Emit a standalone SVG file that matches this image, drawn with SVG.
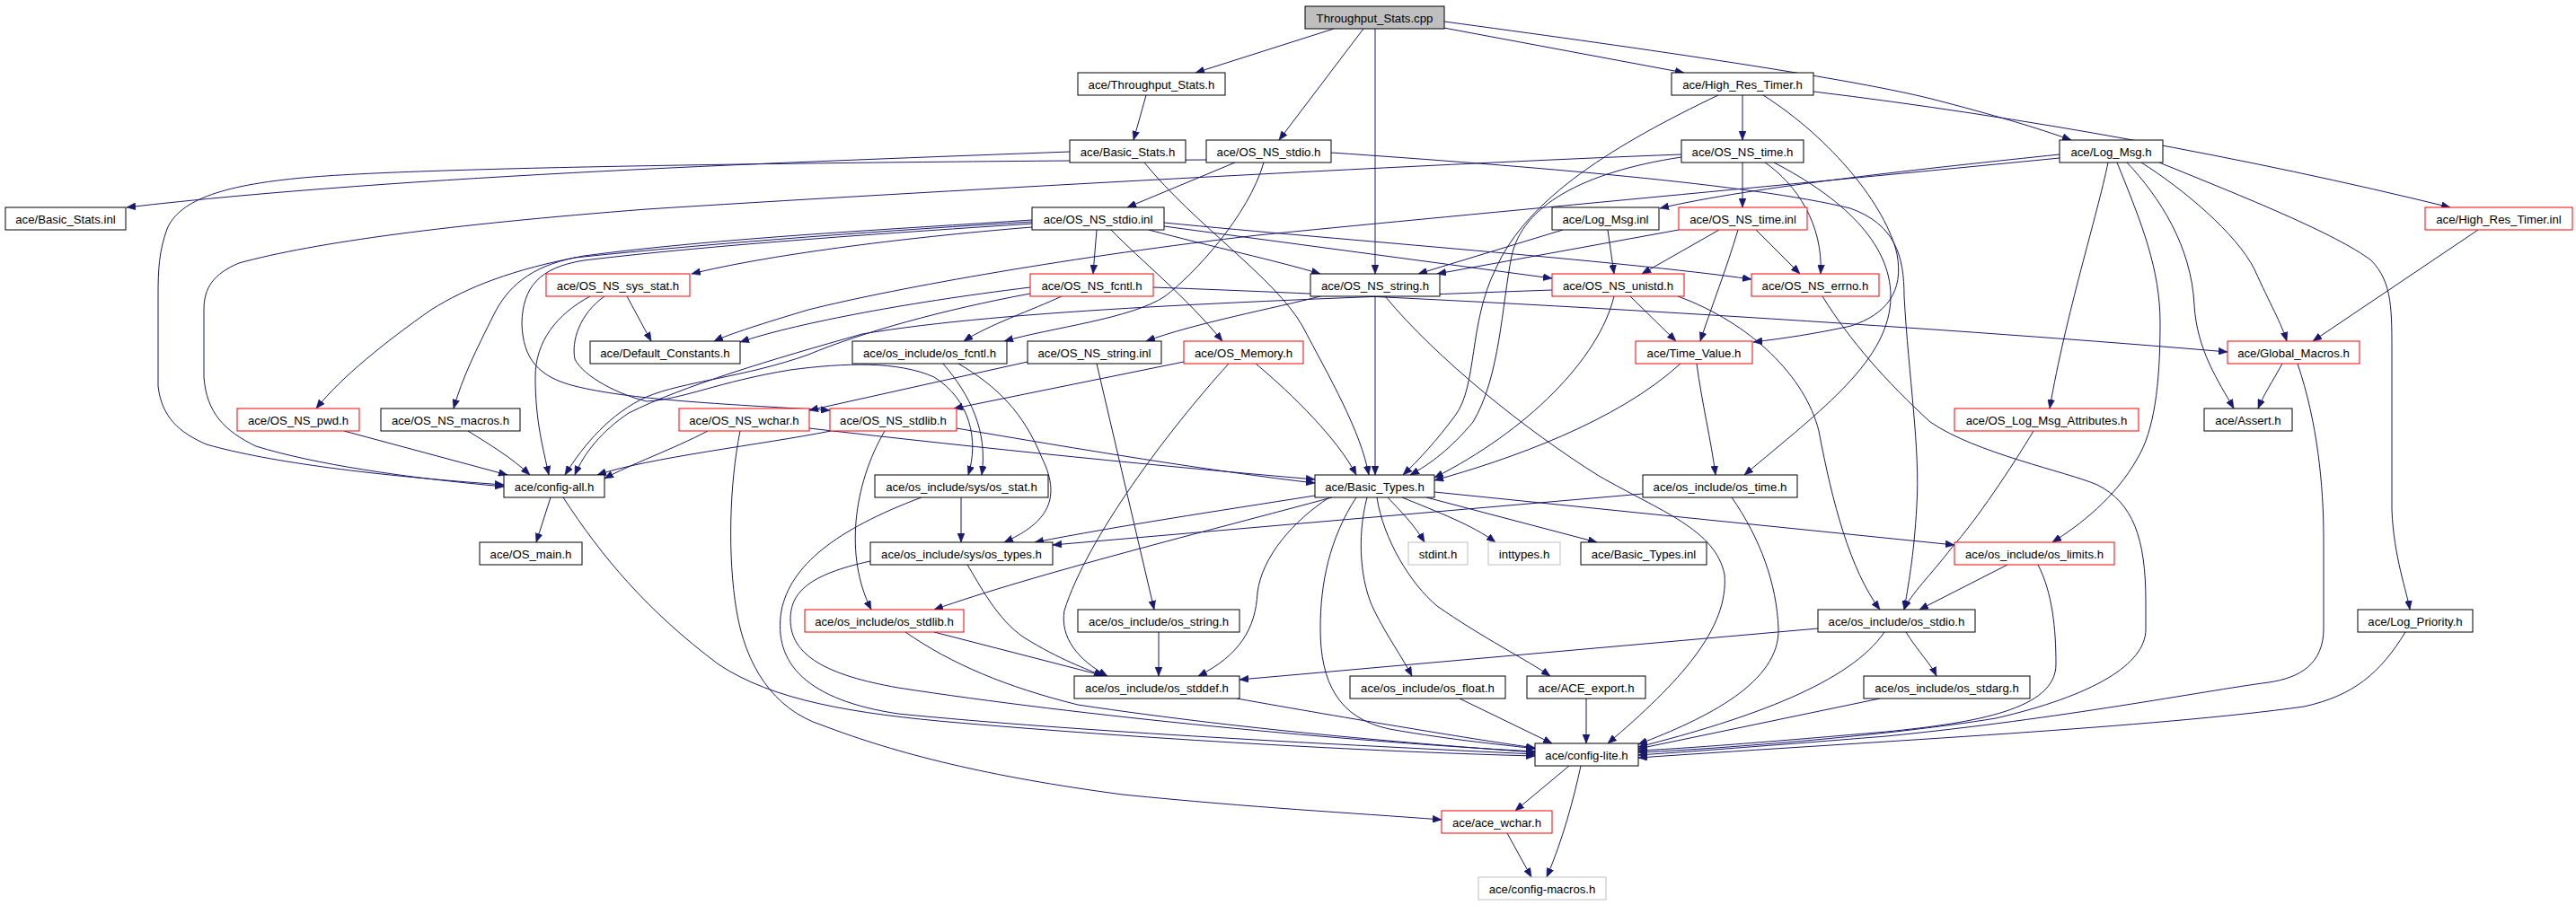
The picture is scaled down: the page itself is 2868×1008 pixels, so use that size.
<svg xmlns="http://www.w3.org/2000/svg" width="2868" height="1008" viewBox="0 0 2868 1008">
<style>
.n rect{fill:#fff;stroke:#000;stroke-width:1}
.n.r rect{stroke:#ff0000}
.n.g rect{stroke:#bfbfbf}
.n.root rect{fill:#bfbfbf}
.n text{font-family:"Liberation Sans",Arial,Helvetica,sans-serif;font-size:13.2px;text-anchor:middle;fill:#000}
#edges path{fill:none;stroke:#191970;stroke-width:1;marker-end:url(#a)}
</style>
<defs>
<marker id="a" markerUnits="userSpaceOnUse" markerWidth="10" markerHeight="8" refX="10" refY="4" orient="auto"><path d="M0,0 L10,4 L0,8 z" fill="#191970" stroke="#191970" stroke-width="0.5"/></marker>
</defs>
<rect width="2868" height="1008" fill="#fff"/>
<g id="edges">
<path d="M1485,32 L1331,81"/>
<path d="M1518,32 L1424,156"/>
<path d="M1531,32 L1531,305"/>
<path d="M1602,30 L1875,81"/>
<path d="M1608,24 C1800,50 2050,85 2150,110 C2220,128 2270,143 2306,156"/>
<path d="M1276,106 L1262,156"/>
<path d="M1191,169 C900,180 450,195 141,231"/>
<path d="M1274,181 C1330,250 1420,310 1450,363 C1480,420 1515,480 1524,529"/>
<path d="M1343,178 C1000,180 500,185 349,197 C250,205 200,222 186,255 C177,280 176,300 176,330 L176,430 C180,465 200,482 230,495 C300,515 420,530 561,540"/>
<path d="M1375,181 L1255,231"/>
<path d="M1407,181 C1390,240 1330,305 1297,330 C1260,355 1170,365 1118,380"/>
<path d="M1482,170 C1700,185 1950,205 2060,232 C2110,250 2120,285 2120,330 C2125,420 2138,500 2134,563 C2131,620 2124,655 2120,679"/>
<path d="M1940,106 L1940,156"/>
<path d="M1913,106 C1800,160 1700,220 1665,300 C1635,360 1645,430 1620,463 C1600,490 1580,512 1562,529"/>
<path d="M1963,106 C2040,155 2100,230 2112,283 C2120,325 2100,350 2061,363 C2020,372 1985,377 1952,381"/>
<path d="M2019,102 C2250,130 2500,175 2728,231"/>
<path d="M1940,181 L1940,231"/>
<path d="M1965,181 C2000,205 2030,250 2027,305"/>
<path d="M1975,181 C2050,220 2105,270 2105,330 C2105,400 2030,455 1942,529"/>
<path d="M1872,172 C1600,182 1000,215 720,233 C500,250 350,270 266,293 C238,305 227,320 227,345 L227,420 C230,460 250,480 285,497 C350,517 450,532 561,542"/>
<path d="M1872,175 C1760,192 1695,230 1683,285 C1672,340 1670,420 1640,470 C1615,500 1592,517 1570,529"/>
<path d="M2293,172 C2150,187 1950,208 1848,232"/>
<path d="M2293,176 C2000,205 1600,242 1400,262 C1200,285 1000,320 900,345 C850,360 812,372 795,380"/>
<path d="M2347,181 C2335,240 2300,350 2282,455"/>
<path d="M2357,181 C2385,250 2405,300 2405,360 C2405,430 2398,480 2380,510 C2355,555 2315,585 2285,604"/>
<path d="M2368,181 C2405,220 2440,275 2443,340 C2446,390 2470,425 2487,455"/>
<path d="M2384,181 C2430,210 2490,260 2510,300 C2528,340 2540,360 2546,380"/>
<path d="M2404,181 C2500,220 2600,260 2640,290 C2664,315 2663,345 2663,400 L2663,568 C2665,620 2680,660 2683,679"/>
<path d="M1740,256 L1579,305"/>
<path d="M1790,256 L1797,305"/>
<path d="M1869,256 L1600,305"/>
<path d="M1914,256 L1828,305"/>
<path d="M1955,256 L2004,305"/>
<path d="M1935,256 C1922,300 1906,340 1893,380"/>
<path d="M1815,330 L1866,380"/>
<path d="M1797,330 C1780,400 1700,480 1597,532"/>
<path d="M1871,405 C1800,470 1680,512 1597,535"/>
<path d="M1889,405 C1895,450 1905,490 1910,529"/>
<path d="M1868,330 C1950,360 2010,420 2025,480 C2040,560 2060,635 2093,679"/>
<path d="M1728,323 C1400,335 1120,345 960,372 C860,400 760,430 700,460 C670,480 650,505 640,529"/>
<path d="M1147,327 C1050,345 960,370 900,395 C830,420 760,425 720,442 C680,460 650,495 629,529"/>
<path d="M1147,320 C1000,338 880,362 824,381"/>
<path d="M1182,330 C1150,345 1100,362 1073,380"/>
<path d="M1284,320 C1700,335 2200,368 2480,392"/>
<path d="M2029,330 C2060,380 2100,425 2149,470 C2200,505 2300,525 2335,540 C2375,560 2389,600 2389,670 L2389,701 C2389,740 2330,775 2222,800 C2100,820 1900,835 1824,838"/>
<path d="M2558,405 C2580,470 2587,540 2587,600 L2587,700 C2587,740 2560,755 2526,760 C2450,770 2300,800 2100,820 C1950,832 1870,838 1824,841"/>
<path d="M2678,704 C2650,750 2620,775 2565,787 C2400,810 2100,825 1824,844"/>
<path d="M2269,629 C2285,660 2289,700 2289,740 C2289,790 2200,805 2100,815 C1950,828 1870,834 1824,836"/>
<path d="M2235,629 L2137,679"/>
<path d="M2264,480 C2240,520 2200,580 2173,610 C2150,640 2127,662 2120,679"/>
<path d="M2122,704 C2135,725 2150,740 2156,753"/>
<path d="M2024,700 L1380,757"/>
<path d="M2098,704 C2060,760 1950,800 1824,832"/>
<path d="M2093,778 L1824,834"/>
<path d="M1928,554 C1960,600 1978,650 1980,700 C1982,760 1900,800 1824,829"/>
<path d="M1829,550 L1172,607"/>
<path d="M1542,330 C1600,400 1700,480 1780,530 C1850,570 1910,590 1920,640 C1925,700 1870,760 1790,828"/>
<path d="M1531,330 L1531,529"/>
<path d="M1470,330 C1420,343 1330,360 1276,380"/>
<path d="M1149,253 C1000,265 850,285 770,305"/>
<path d="M1149,245 C1000,255 800,265 650,285 C570,300 520,320 480,345 C430,380 380,420 352,455"/>
<path d="M1149,247 C1000,256 800,270 640,287 C590,297 565,320 550,350 C530,390 515,420 505,455"/>
<path d="M1149,249 C1000,259 800,272 650,290 C600,298 582,320 581,360 C582,400 600,420 640,430 C700,445 800,450 924,457"/>
<path d="M1221,256 L1217,305"/>
<path d="M1237,256 C1270,290 1320,330 1361,380"/>
<path d="M1279,256 C1350,275 1420,290 1470,305"/>
<path d="M1296,252 L1728,310"/>
<path d="M1296,248 C1500,268 1800,290 1950,311"/>
<path d="M657,330 C620,350 596,380 596,420 C596,470 605,500 611,529"/>
<path d="M698,330 L725,380"/>
<path d="M673,330 C645,350 636,380 640,400 C650,420 690,440 720,447 C760,445 800,425 880,412 C940,404 1000,402 1040,420 C1080,445 1090,490 1078,529"/>
<path d="M383,480 L565,529"/>
<path d="M521,480 C545,495 570,510 590,529"/>
<path d="M788,480 C750,500 700,518 673,533"/>
<path d="M925,480 C850,495 720,510 665,529"/>
<path d="M901,477 C1100,500 1300,520 1464,534"/>
<path d="M1065,477 C1200,500 1350,525 1464,538"/>
<path d="M824,480 C812,540 810,620 820,680 C830,740 860,790 916,808 C1000,840 1100,865 1250,885 C1400,900 1500,905 1605,913"/>
<path d="M985,480 C950,540 940,620 970,679"/>
<path d="M1318,403 L1062,455"/>
<path d="M1398,405 C1440,440 1490,490 1510,529"/>
<path d="M1368,405 C1300,480 1210,600 1185,680 C1180,710 1200,735 1233,753"/>
<path d="M1144,403 L901,457"/>
<path d="M1221,405 L1285,679"/>
<path d="M1067,405 C1110,430 1140,460 1160,510 C1185,560 1160,585 1118,604"/>
<path d="M1050,405 C1080,440 1100,480 1093,529"/>
<path d="M1070,554 L1070,604"/>
<path d="M1026,554 C930,590 880,630 870,680 C860,740 900,780 1000,795 C1200,815 1500,830 1709,840"/>
<path d="M969,625 C900,640 880,660 880,690 C880,730 920,752 1000,766 C1200,797 1500,826 1709,837"/>
<path d="M1077,629 C1090,650 1110,690 1140,710 C1180,735 1210,745 1228,753"/>
<path d="M1464,552 C1350,570 1250,585 1152,604"/>
<path d="M1483,554 C1350,590 1150,640 1040,679"/>
<path d="M1480,554 C1440,580 1405,620 1400,660 C1398,700 1380,730 1334,753"/>
<path d="M1510,554 C1480,600 1470,650 1470,700 C1470,760 1490,800 1547,812 C1620,825 1680,830 1709,834"/>
<path d="M1522,554 C1510,600 1515,650 1530,680 C1545,710 1560,730 1572,753"/>
<path d="M1533,554 C1540,600 1570,650 1600,675 C1650,710 1700,735 1726,753"/>
<path d="M1545,554 C1560,570 1575,585 1586,604"/>
<path d="M1561,554 C1600,570 1640,585 1665,604"/>
<path d="M1588,554 L1778,604"/>
<path d="M1597,548 L2176,607"/>
<path d="M613,554 L597,604"/>
<path d="M627,554 C670,620 720,680 800,740 C860,780 950,795 1067,805 C1300,825 1550,838 1709,842"/>
<path d="M1040,704 L1230,753"/>
<path d="M1008,704 C1060,740 1120,765 1200,785 C1400,815 1600,830 1709,838"/>
<path d="M1377,778 C1500,800 1650,825 1709,833"/>
<path d="M1290,704 L1290,753"/>
<path d="M1625,778 L1728,828"/>
<path d="M1766,778 L1766,828"/>
<path d="M1747,853 L1687,903"/>
<path d="M1760,853 C1752,890 1740,935 1722,977"/>
<path d="M1678,928 L1705,977"/>
<path d="M2541,405 C2530,425 2520,440 2514,455"/>
<path d="M2759,256 L2575,380"/>
</g>
<g id="n_cpp" class="n root"><rect x="1453" y="7" width="155" height="25"/><text x="1530.5" y="24.5">Throughput_Stats.cpp</text></g>
<g id="n_tsh" class="n"><rect x="1200" y="81" width="164" height="25"/><text x="1282" y="98.5">ace/Throughput_Stats.h</text></g>
<g id="n_hrt" class="n"><rect x="1861" y="81" width="158" height="25"/><text x="1940" y="98.5">ace/High_Res_Timer.h</text></g>
<g id="n_bsh" class="n"><rect x="1191" y="156" width="129" height="25"/><text x="1255.5" y="173.5">ace/Basic_Stats.h</text></g>
<g id="n_nsstdio" class="n"><rect x="1343" y="156" width="139" height="25"/><text x="1412.5" y="173.5">ace/OS_NS_stdio.h</text></g>
<g id="n_nstime" class="n"><rect x="1872" y="156" width="136" height="25"/><text x="1940" y="173.5">ace/OS_NS_time.h</text></g>
<g id="n_logmsg" class="n"><rect x="2293" y="156" width="115" height="25"/><text x="2350.5" y="173.5">ace/Log_Msg.h</text></g>
<g id="n_bsinl" class="n"><rect x="6" y="231" width="134" height="25"/><text x="73" y="248.5">ace/Basic_Stats.inl</text></g>
<g id="n_nsstdioinl" class="n"><rect x="1149" y="231" width="147" height="25"/><text x="1222.5" y="248.5">ace/OS_NS_stdio.inl</text></g>
<g id="n_logmsginl" class="n"><rect x="1728" y="231" width="119" height="25"/><text x="1787.5" y="248.5">ace/Log_Msg.inl</text></g>
<g id="n_nstimeinl" class="n r"><rect x="1869" y="231" width="143" height="25"/><text x="1940.5" y="248.5">ace/OS_NS_time.inl</text></g>
<g id="n_hrtinl" class="n r"><rect x="2700" y="231" width="164" height="25"/><text x="2782" y="248.5">ace/High_Res_Timer.inl</text></g>
<g id="n_sysstat" class="n r"><rect x="608" y="305" width="160" height="25"/><text x="688" y="322.5">ace/OS_NS_sys_stat.h</text></g>
<g id="n_fcntl" class="n r"><rect x="1147" y="305" width="137" height="25"/><text x="1215.5" y="322.5">ace/OS_NS_fcntl.h</text></g>
<g id="n_nsstring" class="n"><rect x="1459" y="305" width="144" height="25"/><text x="1531" y="322.5">ace/OS_NS_string.h</text></g>
<g id="n_unistd" class="n r"><rect x="1728" y="305" width="147" height="25"/><text x="1801.5" y="322.5">ace/OS_NS_unistd.h</text></g>
<g id="n_errno" class="n r"><rect x="1950" y="305" width="142" height="25"/><text x="2021" y="322.5">ace/OS_NS_errno.h</text></g>
<g id="n_defconst" class="n"><rect x="657" y="380" width="167" height="25"/><text x="740.5" y="397.5">ace/Default_Constants.h</text></g>
<g id="n_osfcntl" class="n"><rect x="949" y="380" width="172" height="25"/><text x="1035" y="397.5">ace/os_include/os_fcntl.h</text></g>
<g id="n_nsstringinl" class="n"><rect x="1144" y="380" width="149" height="25"/><text x="1218.5" y="397.5">ace/OS_NS_string.inl</text></g>
<g id="n_memory" class="n r"><rect x="1318" y="380" width="133" height="25"/><text x="1384.5" y="397.5">ace/OS_Memory.h</text></g>
<g id="n_timevalue" class="n r"><rect x="1821" y="380" width="130" height="25"/><text x="1886" y="397.5">ace/Time_Value.h</text></g>
<g id="n_globalmacros" class="n r"><rect x="2480" y="380" width="147" height="25"/><text x="2553.5" y="397.5">ace/Global_Macros.h</text></g>
<g id="n_pwd" class="n r"><rect x="264" y="455" width="136" height="25"/><text x="332" y="472.5">ace/OS_NS_pwd.h</text></g>
<g id="n_macros" class="n"><rect x="424" y="455" width="155" height="25"/><text x="501.5" y="472.5">ace/OS_NS_macros.h</text></g>
<g id="n_wchar" class="n r"><rect x="756" y="455" width="145" height="25"/><text x="828.5" y="472.5">ace/OS_NS_wchar.h</text></g>
<g id="n_stdlib" class="n r"><rect x="924" y="455" width="141" height="25"/><text x="994.5" y="472.5">ace/OS_NS_stdlib.h</text></g>
<g id="n_logattr" class="n r"><rect x="2176" y="455" width="205" height="25"/><text x="2278.5" y="472.5">ace/OS_Log_Msg_Attributes.h</text></g>
<g id="n_assert" class="n"><rect x="2454" y="455" width="98" height="25"/><text x="2503" y="472.5">ace/Assert.h</text></g>
<g id="n_configall" class="n"><rect x="561" y="529" width="112" height="25"/><text x="617" y="546.5">ace/config-all.h</text></g>
<g id="n_osstat" class="n"><rect x="974" y="529" width="193" height="25"/><text x="1070.5" y="546.5">ace/os_include/sys/os_stat.h</text></g>
<g id="n_basictypes" class="n"><rect x="1464" y="529" width="133" height="25"/><text x="1530.5" y="546.5">ace/Basic_Types.h</text></g>
<g id="n_ostime" class="n"><rect x="1829" y="529" width="172" height="25"/><text x="1915" y="546.5">ace/os_include/os_time.h</text></g>
<g id="n_osmain" class="n"><rect x="534" y="604" width="114" height="25"/><text x="591" y="621.5">ace/OS_main.h</text></g>
<g id="n_ostypes" class="n"><rect x="969" y="604" width="203" height="25"/><text x="1070.5" y="621.5">ace/os_include/sys/os_types.h</text></g>
<g id="n_stdint" class="n g"><rect x="1568" y="604" width="66" height="25"/><text x="1601" y="621.5">stdint.h</text></g>
<g id="n_inttypes" class="n g"><rect x="1657" y="604" width="80" height="25"/><text x="1697" y="621.5">inttypes.h</text></g>
<g id="n_btinl" class="n"><rect x="1760" y="604" width="140" height="25"/><text x="1830" y="621.5">ace/Basic_Types.inl</text></g>
<g id="n_oslimits" class="n r"><rect x="2176" y="604" width="178" height="25"/><text x="2265" y="621.5">ace/os_include/os_limits.h</text></g>
<g id="n_osstdlib" class="n r"><rect x="896" y="679" width="177" height="25"/><text x="984.5" y="696.5">ace/os_include/os_stdlib.h</text></g>
<g id="n_osstring" class="n"><rect x="1200" y="679" width="180" height="25"/><text x="1290" y="696.5">ace/os_include/os_string.h</text></g>
<g id="n_osstdio" class="n"><rect x="2024" y="679" width="175" height="25"/><text x="2111.5" y="696.5">ace/os_include/os_stdio.h</text></g>
<g id="n_logpriority" class="n"><rect x="2625" y="679" width="128" height="25"/><text x="2689" y="696.5">ace/Log_Priority.h</text></g>
<g id="n_osstddef" class="n"><rect x="1196" y="753" width="184" height="25"/><text x="1288" y="770.5">ace/os_include/os_stddef.h</text></g>
<g id="n_osfloat" class="n"><rect x="1503" y="753" width="173" height="25"/><text x="1589.5" y="770.5">ace/os_include/os_float.h</text></g>
<g id="n_aceexport" class="n"><rect x="1700" y="753" width="132" height="25"/><text x="1766" y="770.5">ace/ACE_export.h</text></g>
<g id="n_osstdarg" class="n"><rect x="2075" y="753" width="185" height="25"/><text x="2167.5" y="770.5">ace/os_include/os_stdarg.h</text></g>
<g id="n_configlite" class="n"><rect x="1709" y="828" width="115" height="25"/><text x="1766.5" y="845.5">ace/config-lite.h</text></g>
<g id="n_acewchar" class="n r"><rect x="1605" y="903" width="123" height="25"/><text x="1666.5" y="920.5">ace/ace_wchar.h</text></g>
<g id="n_configmacros" class="n g"><rect x="1646" y="977" width="142" height="25"/><text x="1717" y="994.5">ace/config-macros.h</text></g>
</svg>
